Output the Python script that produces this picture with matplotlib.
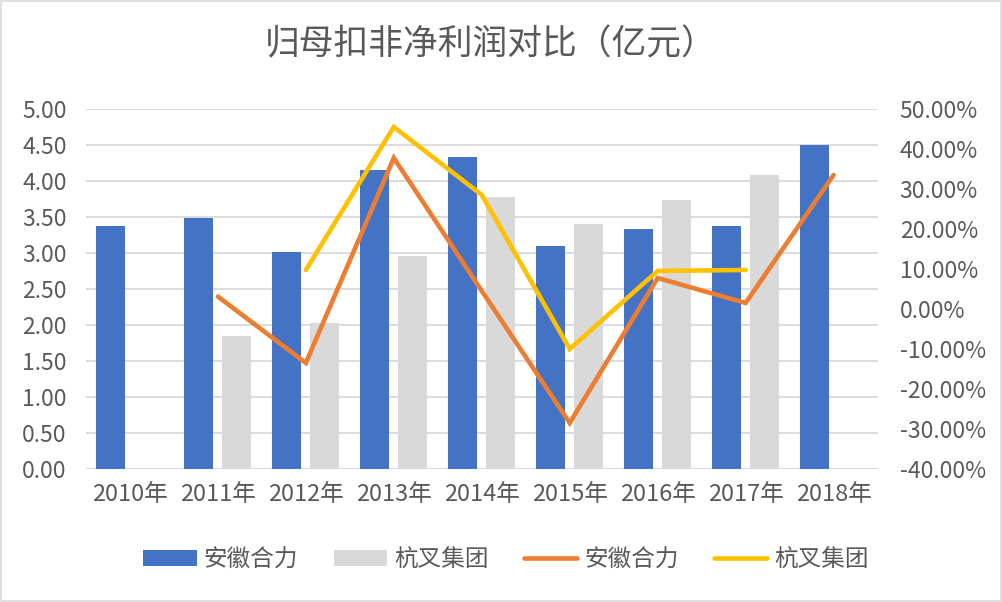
import numpy as np
import matplotlib.pyplot as plt
from matplotlib.ticker import FuncFormatter

plt.rcParams['font.family'] = ['Noto Sans CJK SC', 'DejaVu Sans']

years = ['2010年', '2011年', '2012年', '2013年', '2014年', '2015年', '2016年', '2017年', '2018年']
# 归母扣非净利润 (亿元)
heli_profit = [3.38, 3.48, 3.01, 4.15, 4.33, 3.09, 3.33, 3.37, 4.50]
hangcha_profit = [np.nan, 1.84, 2.03, 2.96, 3.78, 3.40, 3.74, 4.08, np.nan]
# 同比增速 (%)
heli_growth = [np.nan, 3.1, -13.5, 37.75, 4.5, -28.5, 7.75, 1.5, 33.5]
hangcha_growth = [np.nan, np.nan, 9.75, 45.5, 28.5, -10.0, 9.5, 9.75, np.nan]

blue = '#4472C4'
gray = '#D9D9D9'
orange = '#ED7D31'
yellow = '#FFC000'
text_color = '#595959'

fig = plt.figure(figsize=(10.02, 6.02), dpi=100)
ax = fig.add_axes([0.0858, 0.221, 0.79, 0.598])
ax2 = ax.twinx()

x = np.arange(len(years))
w = 0.33
ax.bar(x - 0.216, heli_profit, w, color=blue, label='安徽合力', zorder=2)
ax.bar(x + 0.216, hangcha_profit, w, color=gray, label='杭叉集团', zorder=2)

ax2.plot(x, heli_growth, color=orange, lw=3.3, label='安徽合力', solid_capstyle='round', solid_joinstyle='miter')
ax2.plot(x, hangcha_growth, color=yellow, lw=3.3, label='杭叉集团', solid_capstyle='round', solid_joinstyle='miter')

ax.set_xlim(-0.5, len(years) - 0.5)
ax.set_ylim(0, 5)
ax.set_yticks(np.arange(0, 5.01, 0.5))
ax.yaxis.set_major_formatter(FuncFormatter(lambda v, p: f'{v:.2f}'))
ax2.set_ylim(-40, 50)
ax2.set_yticks(np.arange(-40, 50.1, 10))
ax2.yaxis.set_major_formatter(FuncFormatter(lambda v, p: f'{v:.2f}%'))

ax.set_xticks(x)
ax.set_xticklabels(years)
ax.grid(axis='y', color='#D9D9D9', lw=1.3, zorder=0)
ax.set_axisbelow(True)

for a in (ax, ax2):
    for s in a.spines.values():
        s.set_visible(False)
    a.tick_params(length=0, labelsize=16.5, colors=text_color)
ax.tick_params(axis='x', labelsize=17, pad=10)
ax.tick_params(axis='y', pad=14)
ax2.tick_params(axis='y', pad=16)

fig.text(0.49, 0.925, '归母扣非净利润对比（亿元）', ha='center', va='center', fontsize=25, color=text_color)

h1, l1 = ax.get_legend_handles_labels()
h2, l2 = ax2.get_legend_handles_labels()
fig.legend(h1 + h2, l1 + l2, loc='center', bbox_to_anchor=(0.505, 0.07), ncol=4,
           frameon=False, fontsize=17, labelcolor=text_color,
           handlelength=2.25, handleheight=0.65, handletextpad=0.3, columnspacing=1.5)

fig.patches.append(plt.Rectangle((0.001, 0.001), 0.998, 0.998, transform=fig.transFigure,
                                 fill=False, edgecolor='#D9D9D9', lw=1.2))

fig.savefig('out.png', dpi=100)
